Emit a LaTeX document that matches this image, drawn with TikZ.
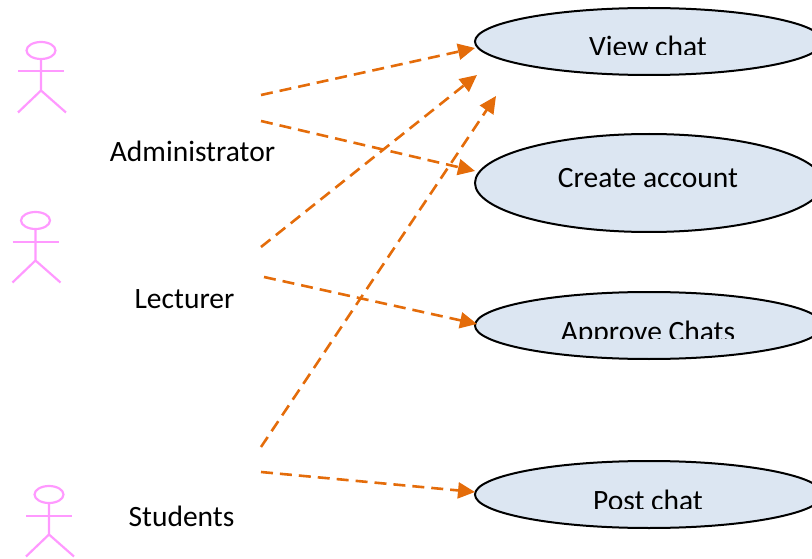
\documentclass[tikz,border=0pt]{standalone}
\usepackage{fontspec}
\setmainfont{Carlito}
\usetikzlibrary{shapes.geometric,arrows.meta}
\definecolor{ucfill}{HTML}{DCE6F2}
\definecolor{flow}{HTML}{E46C0A}
\definecolor{actorpink}{HTML}{FF99FF}
\tikzset{
  usecase/.style={ellipse,draw=black,fill=ucfill,line width=2pt,minimum width=348pt,inner sep=0pt,outer sep=0pt},
  uctext/.style={font=\fontsize{29.5}{29.5}\selectfont,inner sep=0pt,anchor=base,text=black},
  actorlabel/.style={font=\fontsize{29.5}{29.5}\selectfont,inner sep=0pt,anchor=base,text=black},
  flowline/.style={draw=flow,line width=2.6pt,dash pattern=on 12pt off 7pt,-{Triangle[length=17pt,width=16pt]}},
  pics/actor/.style={code={
    \draw[actorpink,line width=2.2pt] (0,0) ellipse[x radius=14.5,y radius=8.5];
    \draw[actorpink,line width=2.2pt] (0,8.5) -- (0,40) (0,40) -- (-23,62) (0,40) -- (25,62);
    \draw[actorpink,line width=2pt] (-23,21) -- (23,21);
  }}
}
\begin{document}
\begin{tikzpicture}[x=1pt,y=-1pt]
\useasboundingbox (0,0) rectangle (812,559);
% use cases
\node[usecase,minimum height=67pt] (view) at (649,41.5) {};
\node[usecase,minimum height=98pt] (create) at (649,183) {};
\node[usecase,minimum height=67pt] (approve) at (649,325.5) {};
\node[usecase,minimum height=67pt] (post) at (649,494.5) {};
\begin{scope}
\clip (500,20) rectangle (800,55);
\node[uctext] (viewt) at (648,57) {View chat};
\end{scope}
\node[uctext] (createt) at (648,188) {Create account};
\begin{scope}
\clip (500,310) rectangle (800,338);
\node[uctext] (approvet) at (648,341) {Approve Chats};
\end{scope}
\begin{scope}
\clip (500,480) rectangle (800,508);
\node[uctext] (postt) at (648,510) {Post chat};
\end{scope}
% actors
\pic at (41,50.5) {actor};
\pic at (35.5,220.5) {actor};
\pic at (49,494.5) {actor};
\node[actorlabel] (admin) at (192.5,162) {Administrator};
\node[actorlabel] (lect) at (184.5,308) {Lecturer};
\node[actorlabel] (stud) at (181.5,526) {Students};
% free ends
\coordinate (a1) at (261,95);
\coordinate (a2) at (261,121);
\coordinate (l1) at (261,247);
\coordinate (l2) at (264,277);
\coordinate (s1) at (261,447);
\coordinate (s2) at (261,472);
\coordinate (e1) at (475,48);
\coordinate (e2) at (475,171);
\coordinate (e3) at (477,75);
\coordinate (e4) at (477,324);
\coordinate (e5) at (496,96);
\coordinate (e6) at (475,492);
\draw[flowline] (a1) -- (e1);
\draw[flowline] (a2) -- (e2);
\draw[flowline] (l1) -- (e3);
\draw[flowline] (l2) -- (e4);
\draw[flowline] (s1) -- (e5);
\draw[flowline] (s2) -- (e6);
\end{tikzpicture}
\end{document}
